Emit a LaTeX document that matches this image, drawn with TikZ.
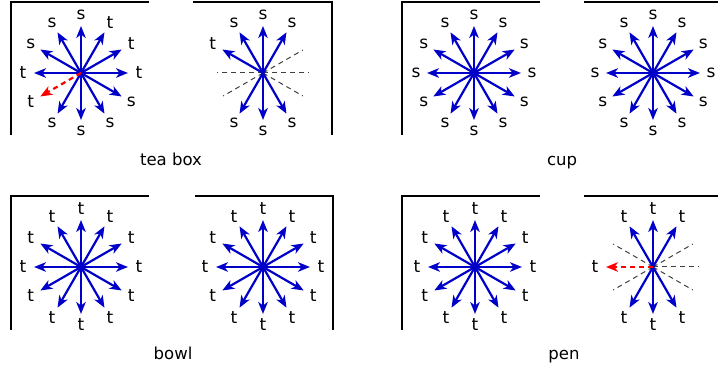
\documentclass[tikz,border=0pt]{standalone}
\usepackage{fontspec}
\setmainfont{DejaVu Sans}
\usetikzlibrary{arrows.meta,calc}
\definecolor{arrowblue}{RGB}{0,0,200}
\tikzset{
  spoke/.style={arrowblue, line width=2.2pt, -{Stealth[length=12pt,width=9.5pt,inset=3.5pt]}},
  redspoke/.style={red, line width=2.2pt, dash pattern=on 5pt off 4pt, -{Stealth[length=12pt,width=9.5pt,inset=3.5pt]}},
  guide/.style={black!75, line width=1pt, dash pattern=on 5pt off 4pt},
  frame/.style={black, line width=2pt},
  lbl/.style={font=\fontsize{17}{17}\selectfont, inner sep=0pt},
  caption/.style={font=\fontsize{16.5}{17}\selectfont, inner sep=0pt, anchor=base}
}
\newcommand\bluespokes[2]{%
  \foreach \a/\l in {#2} {
    \coordinate (#1-tip\a) at ($(#1)+(\a:47)$);
    \node[lbl] (#1-lab\a) at ($(#1)+(\a:58)$) {\l};
    \draw[spoke] (#1) -- (#1-tip\a);
  }}
\newcommand\redspokes[2]{%
  \foreach \a/\l in {#2} {
    \coordinate (#1-tip\a) at ($(#1)+(\a:47)$);
    \node[lbl] (#1-lab\a) at ($(#1)+(\a:58)$) {\l};
    \draw[redspoke] (#1) -- (#1-tip\a);
  }}
\newcommand\guides[2]{%
  \foreach \a in {#2} {
    \coordinate (#1-end\a) at ($(#1)+(\a:46)$);
    \draw[guide] (#1) -- (#1-end\a);
  }}
\begin{document}
\begin{tikzpicture}[x=1pt,y=1pt]
\useasboundingbox (0,0) rectangle (718,366);
% frames
\draw[frame] (11,231) -- (11,364) -- (149,364);
\draw[frame] (193,364) -- (332,364) -- (332,231);
\draw[frame] (402,231) -- (402,364) -- (540,364);
\draw[frame] (584,364) -- (722,364);
\draw[frame] (11,36) -- (11,170) -- (149,170);
\draw[frame] (195,170) -- (333,170) -- (333,36);
\draw[frame] (402,36) -- (402,170) -- (540,170);
\draw[frame] (584,170) -- (722,170);
% centers
\coordinate (A) at (81,293);
\coordinate (B) at (263,293);
\coordinate (C) at (474,293);
\coordinate (D) at (653,293);
\coordinate (E) at (81,99);
\coordinate (F) at (263,99);
\coordinate (G) at (475,99);
\coordinate (H) at (653,99);
% tea box
\bluespokes{A}{0/t,30/t,60/t,90/s,120/s,150/s,180/t,240/s,270/s,300/s,330/s}
\redspokes{A}{210/t}
\guides{B}{0,30,180,210,330}
\bluespokes{B}{60/s,90/s,120/s,150/t,240/s,270/s,300/s}
% cup
\bluespokes{C}{0/s,30/s,60/s,90/s,120/s,150/s,180/s,210/s,240/s,270/s,300/s,330/s}
\bluespokes{D}{0/s,30/s,60/s,90/s,120/s,150/s,180/s,210/s,240/s,270/s,300/s,330/s}
% bowl
\bluespokes{E}{0/t,30/t,60/t,90/t,120/t,150/t,180/t,210/t,240/t,270/t,300/t,330/t}
\bluespokes{F}{0/t,30/t,60/t,90/t,120/t,150/t,180/t,210/t,240/t,270/t,300/t,330/t}
% pen
\bluespokes{G}{0/t,30/t,60/t,90/t,120/t,150/t,180/t,210/t,240/t,270/t,300/t,330/t}
\guides{H}{0,30,150,210,330}
\bluespokes{H}{60/t,90/t,120/t,240/t,270/t,300/t}
\redspokes{H}{180/t}
% captions
\node[caption] (cap1) at (171,200) {tea box};
\node[caption] (cap2) at (562,200) {cup};
\node[caption] (cap3) at (173,6) {bowl};
\node[caption] (cap4) at (564,6) {pen};
\end{tikzpicture}
\end{document}
